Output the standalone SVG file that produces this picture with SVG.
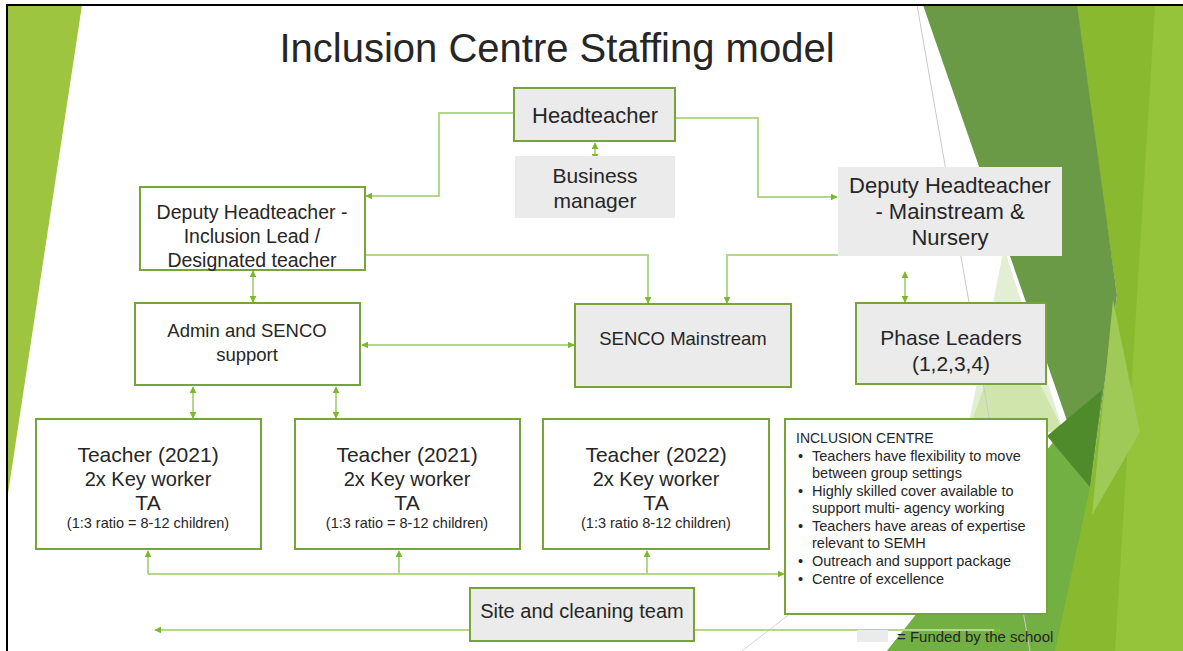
<svg xmlns="http://www.w3.org/2000/svg" width="1183" height="651" viewBox="0 0 1183 651">
  <defs>
    <marker id="ah" viewBox="0 0 10 10" refX="9" refY="5" markerWidth="7" markerHeight="7" markerUnits="userSpaceOnUse" orient="auto-start-reverse">
      <path d="M0,0 L10,5 L0,10 z" fill="#7ab82c"/>
    </marker>
    <style>
      .t { font-family: "Liberation Sans", Arial, sans-serif; fill: #262626; text-anchor: middle; }
      .tl { font-family: "Liberation Sans", Arial, sans-serif; fill: #262626; }
      .box { fill: #ffffff; stroke: #76a33a; stroke-width: 2; }
      .gbox { fill: #ebebeb; stroke: #76a33a; stroke-width: 2; }
      .gfill { fill: #ebebeb; }
      .c { fill: none; stroke: #b3d88c; stroke-width: 2; }
    </style>
  </defs>

  <!-- background -->
  <g id="background">
    <rect x="0" y="0" width="1183" height="651" fill="#ffffff"/>
    <polygon points="7,5 82,5 7,500" fill="#9dc540"/>
    <polygon points="1075,5 1183,5 1183,651 887,651 1063,430 1090,487 1117,295" fill="#88b92e"/>
    <polygon points="1155,5 1183,5 1183,651 1115,651" fill="#95c33a"/>
    <polygon points="1004,248 1063,430 965,442" fill="#e3efd3"/>
    <polygon points="985,384 1040,384 1063,430 964,444" fill="#cfe5ab"/>
    <polygon points="887,651 1063,430 1090,487 1055,651" fill="#72b043"/>
    <polygon points="923,5 1077,5 1117,295 1090,487" fill="#6a9a46"/>
    <polygon points="1047,436 1102,390 1090,487" fill="#4f8b2b"/>
    <polygon points="1113,300 1140,432 1092,515" fill="#9fca58"/>
    <line x1="917" y1="5" x2="1030" y2="651" stroke="#c9c9c9" stroke-width="1"/>
    <line x1="800" y1="606" x2="742" y2="651" stroke="#d4d4d4" stroke-width="1"/>
    <path d="M7,651 V5 H1183" fill="none" stroke="#000000" stroke-width="2"/>
  </g>

  <text class="t" x="557" y="62" font-size="40">Inclusion Centre Staffing model</text>

  <!-- connectors -->
  <g id="connectors">
    <path class="c" d="M514,113 H439 V196 H366" marker-end="url(#ah)"/>
    <path class="c" d="M675,118 H758 V197 H837" marker-end="url(#ah)"/>
    <path class="c" d="M595,143 V160" marker-start="url(#ah)" marker-end="url(#ah)"/>
    <path class="c" d="M366,255 H648 V303" marker-end="url(#ah)"/>
    <path class="c" d="M838,255 H727 V303" marker-end="url(#ah)"/>
    <path class="c" d="M905,272 V302" marker-start="url(#ah)" marker-end="url(#ah)"/>
    <path class="c" d="M253,271 V302" marker-start="url(#ah)" marker-end="url(#ah)"/>
    <path class="c" d="M362,345 H574" marker-start="url(#ah)" marker-end="url(#ah)"/>
    <path class="c" d="M193,387 V418" marker-start="url(#ah)" marker-end="url(#ah)"/>
    <path class="c" d="M336,387 V418" marker-start="url(#ah)" marker-end="url(#ah)"/>
    <path class="c" d="M148,574 H784" marker-end="url(#ah)"/>
    <path class="c" d="M148,574 V551" marker-end="url(#ah)"/>
    <path class="c" d="M399,574 V551" marker-end="url(#ah)"/>
    <path class="c" d="M647,574 V551" marker-end="url(#ah)"/>
    <path class="c" d="M470,630 H155" marker-end="url(#ah)"/>
    <path class="c" d="M694,630 H1000" marker-end="url(#ah)"/>
  </g>

  <!-- nodes -->
  <g id="headteacher">
    <rect class="gbox" x="514" y="88" width="161" height="53"/>
    <text class="t" x="595" y="123" font-size="22">Headteacher</text>
  </g>
  <g id="business-manager">
    <rect class="gfill" x="515" y="156" width="160" height="62"/>
    <text class="t" x="595" y="183" font-size="21">Business</text>
    <text class="t" x="595" y="208" font-size="21">manager</text>
  </g>
  <g id="deputy-inclusion">
    <rect class="box" x="140" y="187" width="225" height="83"/>
    <text class="t" x="252" y="219" font-size="19.5">Deputy Headteacher -</text>
    <text class="t" x="252" y="243" font-size="19.5">Inclusion Lead /</text>
    <text class="t" x="252" y="267" font-size="19.5">Designated teacher</text>
  </g>
  <g id="deputy-mainstream">
    <rect class="gfill" x="838" y="167" width="224" height="89"/>
    <text class="t" x="950" y="193" font-size="22">Deputy Headteacher</text>
    <text class="t" x="950" y="219" font-size="22">- Mainstream &amp;</text>
    <text class="t" x="950" y="245" font-size="22">Nursery</text>
  </g>
  <g id="admin-senco">
    <rect class="box" x="135" y="303" width="225" height="82"/>
    <text class="t" x="247" y="337" font-size="18.5">Admin and SENCO</text>
    <text class="t" x="247" y="361" font-size="18.5">support</text>
  </g>
  <g id="senco-mainstream">
    <rect class="gbox" x="575" y="304" width="216" height="83"/>
    <text class="t" x="683" y="345" font-size="18.5">SENCO Mainstream</text>
  </g>
  <g id="phase-leaders">
    <rect class="gbox" x="856" y="303" width="190" height="81"/>
    <text class="t" x="951" y="345" font-size="21">Phase Leaders</text>
    <text class="t" x="951" y="371" font-size="21">(1,2,3,4)</text>
  </g>
  <g id="teacher-1">
    <rect class="box" x="36" y="419" width="225" height="130"/>
    <text class="t" x="148" y="462" font-size="21">Teacher (2021)</text>
    <text class="t" x="148" y="486" font-size="20">2x Key worker</text>
    <text class="t" x="148" y="510" font-size="21">TA</text>
    <text class="t" x="148" y="528" font-size="14.5">(1:3 ratio = 8-12 children)</text>
  </g>
  <g id="teacher-2">
    <rect class="box" x="295" y="419" width="225" height="130"/>
    <text class="t" x="407" y="462" font-size="21">Teacher (2021)</text>
    <text class="t" x="407" y="486" font-size="20">2x Key worker</text>
    <text class="t" x="407" y="510" font-size="21">TA</text>
    <text class="t" x="407" y="528" font-size="14.5">(1:3 ratio = 8-12 children)</text>
  </g>
  <g id="teacher-3">
    <rect class="box" x="543" y="419" width="226" height="130"/>
    <text class="t" x="656" y="462" font-size="21">Teacher (2022)</text>
    <text class="t" x="656" y="486" font-size="20">2x Key worker</text>
    <text class="t" x="656" y="510" font-size="21">TA</text>
    <text class="t" x="656" y="528" font-size="14.5">(1:3 ratio 8-12 children)</text>
  </g>
  <g id="inclusion-centre">
    <rect class="box" x="785" y="419" width="262" height="195"/>
    <text class="tl" x="796" y="443" font-size="14">INCLUSION CENTRE</text>
    <g font-size="14.5">
      <text class="tl" x="798" y="461">•</text>
      <text class="tl" x="812" y="461">Teachers have flexibility to move</text>
      <text class="tl" x="812" y="478">between group settings</text>
      <text class="tl" x="798" y="496">•</text>
      <text class="tl" x="812" y="496">Highly skilled cover available to</text>
      <text class="tl" x="812" y="513">support multi- agency working</text>
      <text class="tl" x="798" y="531">•</text>
      <text class="tl" x="812" y="531">Teachers have areas of expertise</text>
      <text class="tl" x="812" y="548">relevant to SEMH</text>
      <text class="tl" x="798" y="566">•</text>
      <text class="tl" x="812" y="566">Outreach and support package</text>
      <text class="tl" x="798" y="584">•</text>
      <text class="tl" x="812" y="584">Centre of excellence</text>
    </g>
  </g>
  <g id="site-cleaning">
    <rect class="gbox" x="470" y="588" width="224" height="53"/>
    <text class="t" x="582" y="618" font-size="20">Site and cleaning team</text>
  </g>
  <g id="legend">
    <rect class="gfill" x="857" y="630" width="31" height="12"/>
    <text class="tl" x="897" y="642" font-size="15">= Funded by the school</text>
  </g>
</svg>
